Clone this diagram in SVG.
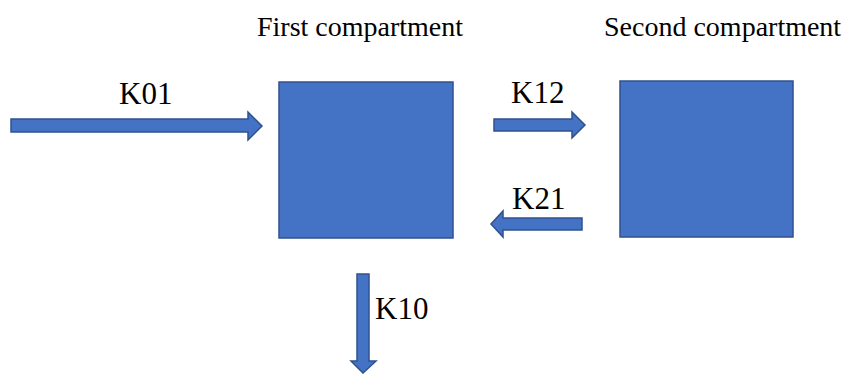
<svg xmlns="http://www.w3.org/2000/svg" width="845" height="374" viewBox="0 0 845 374">
<style>
.box{fill:#4472C4;stroke:#2F528F;stroke-width:1.5}
.arr{fill:#4472C4;stroke:#2F528F;stroke-width:1.5;stroke-linejoin:miter}
.title{font-family:"Liberation Serif","Times New Roman",serif;font-size:28px;fill:#000}
.lbl{font-family:"Liberation Serif","Times New Roman",serif;font-size:31px;fill:#000}
</style>
<rect width="845" height="374" fill="#fff"/>
<g id="first">
<rect class="box" x="279" y="82" width="174" height="156"/>
<text class="title" x="257" y="36">First compartment</text>
</g>
<g id="second">
<rect class="box" x="620" y="81" width="173" height="156"/>
<text class="title" x="604" y="36">Second compartment</text>
</g>
<g id="connectors">
<polygon class="arr" points="11,119 248,119 248,112 262,126 248,140 248,132 11,132"/>
<text class="lbl" x="119" y="104">K01</text>
<polygon class="arr" points="494,119 572,119 572,112 585,125 572,138 572,131 494,131"/>
<text class="lbl" x="511" y="103">K12</text>
<polygon class="arr" points="582,218 503,218 503,211 491,224 503,237 503,230 582,230"/>
<text class="lbl" x="512" y="209">K21</text>
<polygon class="arr" points="357,274 369,274 369,361 376,361 363,373 351,361 357,361"/>
<text class="lbl" x="375" y="319">K10</text>
</g>
</svg>
